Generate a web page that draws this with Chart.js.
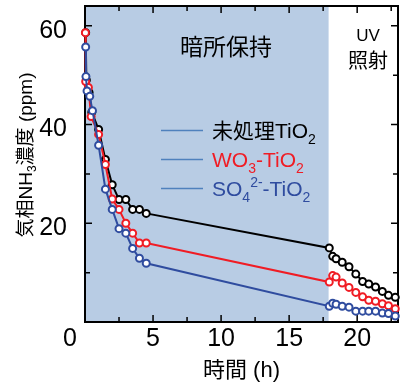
<!DOCTYPE html>
<html>
<head>
<meta charset="utf-8">
<script src="https://cdn.jsdelivr.net/npm/chart.js@4"></script>
<style>
  html, body { margin: 0; padding: 0; background: #fff; }
  #wrap { width: 404px; height: 390px; }
</style>
</head>
<body>
<div id="wrap"><canvas id="chart" width="404" height="390"></canvas></div>
<script>
// dark phase (shaded) then UV phase, times in h, NH3 in ppm
const darkEnd = 17.9;
const blackTimes = [0.05, 0.1, 0.3, 0.5, 1.0, 1.5, 2.0, 2.5, 3.0, 3.5, 4.0, 4.5, 17.95];
const blackDark = [58.6, 49.0, 46.5, 42.5, 39.0, 32.9, 27.8, 24.8, 24.8, 22.8, 22.8, 22.0, 15.0];
const redTimes = [0.03, 0.05, 0.25, 0.45, 1.0, 1.5, 2.0, 2.5, 3.0, 3.5, 4.0, 4.5, 17.95];
const redDark = [58.6, 48.7, 47.5, 41.6, 38.0, 31.9, 24.9, 22.8, 20.0, 18.0, 16.0, 16.0, 8.1];
const blueTimes = [0.05, 0.07, 0.15, 0.35, 0.55, 1.0, 1.5, 2.0, 2.5, 3.0, 3.5, 4.0, 4.5, 17.95];
const blueDark = [55.7, 49.7, 46.8, 45.7, 42.8, 35.8, 26.9, 22.8, 18.9, 18.0, 14.9, 12.9, 11.9, 3.2];

const uvTimes = [18.2, 18.45, 18.9, 19.4, 19.9, 20.4, 20.85, 21.35, 21.85, 22.3, 22.8];
const blackUV = [13.3, 12.8, 12.1, 11.2, 9.7, 8.2, 7.7, 7.1, 6.2, 5.4, 5.0];
const redUV = [9.4, 9.1, 7.9, 7.0, 6.0, 5.1, 4.4, 4.2, 3.7, 3.3, 2.7];
const blueUV = [3.8, 3.6, 3.2, 3.0, 2.2, 2.2, 2.2, 2.2, 1.8, 1.7, 1.2];

const xTicks = [0, 5, 10, 15, 20];
const yTicks = [0, 20, 40, 60];

const FONT = "'Liberation Sans', 'Noto Sans CJK JP', sans-serif";
const BLACK = '#000000', RED = '#f01c24', BLUE = '#2f4c9f';

function pts(times, vals, uv, uvVals) {
  const out = times.map((t, i) => ({ x: t, y: vals[i] }));
  return out.concat(uv.map((t, i) => ({ x: t, y: uvVals[i] })));
}

function series(label, color, data, order) {
  return {
    label, data, order,
    showLine: true,
    borderColor: color,
    borderWidth: 2,
    pointRadius: 3.5,
    pointBorderWidth: 2,
    pointBorderColor: color,
    pointBackgroundColor: '#ffffff',
    clip: false
  };
}

// text made of pieces: [text, size, dy, color]
function drawParts(ctx, parts, x, y, align) {
  let w = 0;
  parts.forEach(p => { ctx.font = p[1] + 'px ' + FONT; w += ctx.measureText(p[0]).width; });
  let cx = align === 'center' ? x - w / 2 : x;
  ctx.textAlign = 'left';
  ctx.textBaseline = 'alphabetic';
  parts.forEach(p => {
    ctx.font = p[1] + 'px ' + FONT;
    ctx.fillStyle = p[3];
    ctx.fillText(p[0], cx, y + p[2]);
    cx += ctx.measureText(p[0]).width;
  });
}

const decor = {
  id: 'decor',
  beforeDatasetsDraw(chart) {
    const { ctx, chartArea: a, scales: { x, y } } = chart;
    ctx.save();
    // dark-storage shading
    ctx.fillStyle = '#b8cce4';
    ctx.fillRect(x.getPixelForValue(0), a.top, x.getPixelForValue(darkEnd) - x.getPixelForValue(0), a.bottom - a.top);
    // frame
    ctx.strokeStyle = '#000';
    ctx.lineWidth = 2;
    ctx.strokeRect(a.left, a.top, a.right - a.left, a.bottom - a.top);
    // inward ticks on all four sides
    ctx.lineWidth = 1.5;
    for (let v = 2.5; v < 23; v += 2.5) {
      const px = x.getPixelForValue(v);
      const len = v % 5 === 0 ? 7 : 5;
      ctx.beginPath();
      ctx.moveTo(px, a.bottom); ctx.lineTo(px, a.bottom - len);
      ctx.moveTo(px, a.top); ctx.lineTo(px, a.top + len);
      ctx.stroke();
    }
    for (let v = 10; v < 64; v += 10) {
      const py = y.getPixelForValue(v);
      const len = v % 20 === 0 ? 7 : 5;
      ctx.beginPath();
      ctx.moveTo(a.left, py); ctx.lineTo(a.left + len, py);
      ctx.moveTo(a.right, py); ctx.lineTo(a.right - len, py);
      ctx.stroke();
    }
    ctx.restore();
  },
  afterDraw(chart) {
    const { ctx, chartArea: a } = chart;
    ctx.save();
    // shared origin label
    ctx.font = '25px ' + FONT;
    ctx.fillStyle = '#000';
    ctx.textAlign = 'center';
    ctx.textBaseline = 'middle';
    ctx.fillText('0', 70, 339);

    // axis titles
    drawParts(ctx, [['時間 (h)', 22, 0, '#000']], (a.left + a.right) / 2, 377, 'center');
    ctx.save();
    ctx.translate(32, 155);
    ctx.rotate(-Math.PI / 2);
    drawParts(ctx, [['気相NH', 19, 0, '#000'], ['3', 12, 4, '#000'], ['濃度 (ppm)', 19, 0, '#000']], 0, 0, 'center');
    ctx.restore();

    // annotations
    drawParts(ctx, [['暗所保持', 23, 0, '#000']], 226, 55, 'center');
    drawParts(ctx, [['UV', 17, 0, '#000']], 368, 41, 'center');
    drawParts(ctx, [['照射', 20, 0, '#000']], 368, 68, 'center');

    // legend
    const rows = [
      { y: 138, parts: [['未処理TiO', 21, 0, BLACK], ['2', 14, 6, BLACK]] },
      { y: 167, parts: [['WO', 21, 0, RED], ['3', 14, 6, RED], ['-TiO', 21, 0, RED], ['2', 14, 6, RED]] },
      { y: 196, parts: [['SO', 21, 0, BLUE], ['4', 14, 6, BLUE], ['2-', 14, -9, BLUE], ['-TiO', 21, 0, BLUE], ['2', 14, 6, BLUE]] }
    ];
    rows.forEach(r => {
      ctx.strokeStyle = '#4f81bd';
      ctx.lineWidth = 1.3;
      ctx.beginPath();
      ctx.moveTo(161, r.y - 7.5); ctx.lineTo(203, r.y - 7.5);
      ctx.stroke();
      drawParts(ctx, r.parts, 212, r.y, 'left');
    });
    ctx.restore();
  }
};

new Chart(document.getElementById('chart').getContext('2d'), {
  type: 'scatter',
  data: {
    datasets: [
      series('未処理TiO2', BLACK, pts(blackTimes, blackDark, uvTimes, blackUV), 3),
      series('WO3-TiO2', RED, pts(redTimes, redDark, uvTimes, redUV), 2),
      series('SO4 2- -TiO2', BLUE, pts(blueTimes, blueDark, uvTimes, blueUV), 1)
    ]
  },
  options: {
    responsive: false,
    animation: false,
    layout: { padding: { top: 4, right: 1, left: 0, bottom: 0 } },
    plugins: {
      legend: { display: false },
      tooltip: { enabled: false }
    },
    scales: {
      x: {
        type: 'linear',
        min: 0,
        max: 23,
        afterBuildTicks: s => { s.ticks = xTicks.map(v => ({ value: v })); },
        afterFit: s => { s.height = 68; s.paddingLeft = 0; s.paddingRight = 0; },
        ticks: {
          callback: v => (v === 0 ? '' : v),
          color: '#000',
          font: { family: FONT, size: 25 },
          padding: -6,
          maxRotation: 0
        },
        grid: { display: false },
        border: { display: false }
      },
      y: {
        min: 0,
        max: 64,
        afterBuildTicks: s => { s.ticks = yTicks.map(v => ({ value: v })); },
        afterFit: s => { s.width = 85; s.paddingTop = 0; s.paddingBottom = 0; },
        ticks: {
          callback: v => (v === 0 ? '' : v),
          color: '#000',
          font: { family: FONT, size: 25 },
          padding: 10,
          labelOffset: 5
        },
        grid: { display: false },
        border: { display: false }
      }
    }
  },
  plugins: [decor]
});
</script>
</body>
</html>
